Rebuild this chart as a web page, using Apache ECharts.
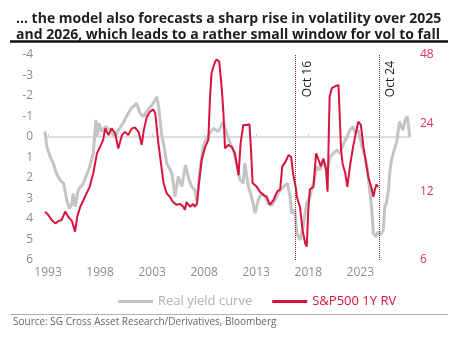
<!DOCTYPE html>
<html>
<head>
<meta charset="utf-8">
<script src="https://cdn.jsdelivr.net/npm/echarts@6/dist/echarts.min.js"></script>
<style>
  html, body { margin: 0; padding: 0; background: #ffffff; }
  #chart { width: 464px; height: 339px; }
</style>
</head>
<body>
<div id="chart"></div>
<script>
// Real yield curve (left axis, inverted), decimal years
const curveYears = [1992.71, 1992.88, 1993.2, 1993.5, 1993.8, 1994.15, 1994.5, 1994.8, 1995.05, 1995.3, 1995.4, 1995.6, 1995.9, 1996.4, 1996.7, 1997.0, 1997.35, 1997.6, 1997.7, 1997.9, 1998.15, 1998.5, 1998.95, 1999.4, 1999.75, 2000.2, 2000.7, 2001.0, 2001.5, 2001.85, 2002.15, 2002.6, 2003.1, 2003.45, 2003.6, 2003.9, 2004.2, 2004.4, 2004.9, 2005.2, 2005.5, 2005.85, 2006.2, 2006.55, 2006.8, 2007.1, 2007.3, 2007.6, 2007.9, 2008.25, 2008.55, 2008.9, 2009.35, 2009.85, 2010.15, 2010.5, 2010.8, 2011.1, 2011.45, 2011.75, 2011.9, 2012.25, 2012.55, 2012.9, 2013.2, 2013.5, 2013.85, 2014.15, 2014.5, 2014.8, 2015.1, 2015.6, 2016.0, 2016.25, 2016.4, 2016.7, 2016.9, 2017.2, 2017.5, 2017.85, 2018.15, 2018.5, 2018.8, 2019.1, 2019.45, 2019.8, 2020.1, 2020.4, 2020.75, 2021.05, 2021.4, 2021.7, 2022.0, 2022.3, 2022.5, 2022.8, 2023.15, 2023.45, 2023.7, 2023.9, 2024.1, 2024.25, 2024.5, 2024.7, 2024.9, 2025.2, 2025.35, 2025.5, 2025.7, 2025.85, 2026.0, 2026.25, 2026.5, 2026.75, 2026.95, 2027.1, 2027.3, 2027.5, 2027.6, 2027.75];
const curveValues = [-0.26, 0.47, 0.96, 1.28, 1.77, 2.1, 2.26, 3.07, 3.48, 3.23, 2.75, 3.4, 2.59, 2.26, 1.85, 1.45, 0.8, -0.83, -0.01, -0.67, -0.26, -0.5, -0.34, 0.0, -0.34, -0.67, -1.16, -1.4, -1.64, -1.16, -0.99, -1.32, -1.64, -1.97, -1.56, -0.18, 0.63, 1.28, 1.77, 2.91, 1.93, 2.42, 1.37, 2.1, 2.42, 2.59, 3.15, 1.61, 0.47, 0.06, -0.2, -0.42, -0.26, -0.75, -0.18, 0.31, 0.63, 1.28, 2.1, 2.26, 1.28, 2.42, 2.91, 3.72, 3.07, 2.75, 2.91, 3.23, 3.32, 3.07, 2.75, 2.42, 2.26, 2.91, 3.72, 3.56, 4.7, 5.02, 4.37, 3.23, 2.91, 2.26, 1.45, 1.61, 1.12, 1.77, 0.96, 0.8, 0.63, 0.8, 0.31, 0.0, -0.34, -0.5, -0.18, -0.34, 0.47, 0.96, 1.61, 2.59, 3.56, 4.7, 4.86, 4.62, 4.78, 4.54, 3.4, 3.23, 2.59, 1.61, 1.12, 0.63, 0.23, -0.75, -0.5, -0.34, -0.83, -1.0, -0.67, 0.0];

// S&P500 1Y realised volatility (right axis, log scale)
const volYears = [1992.71, 1993.0, 1993.35, 1993.7, 1994.0, 1994.3, 1994.65, 1994.95, 1995.3, 1995.6, 1995.8, 1996.1, 1996.4, 1996.7, 1997.0, 1997.35, 1997.7, 1998.0, 1998.3, 1998.5, 1998.8, 1999.1, 1999.45, 1999.75, 2000.1, 2000.4, 2000.7, 2001.05, 2001.35, 2001.7, 2002.0, 2002.2, 2002.5, 2002.8, 2003.1, 2003.3, 2003.6, 2003.85, 2004.1, 2004.4, 2004.7, 2005.0, 2005.35, 2005.7, 2006.0, 2006.15, 2006.3, 2006.65, 2006.95, 2007.1, 2007.3, 2007.5, 2007.75, 2008.1, 2008.4, 2008.55, 2008.7, 2009.05, 2009.2, 2009.35, 2009.45, 2009.7, 2009.85, 2010.0, 2010.3, 2010.65, 2010.95, 2011.3, 2011.5, 2011.75, 2012.1, 2012.35, 2012.5, 2012.65, 2013.05, 2013.35, 2013.7, 2014.0, 2014.3, 2014.65, 2015.0, 2015.3, 2015.5, 2015.8, 2016.1, 2016.35, 2016.55, 2016.8, 2016.9, 2017.2, 2017.45, 2017.7, 2017.85, 2018.0, 2018.15, 2018.5, 2018.75, 2019.0, 2019.2, 2019.45, 2019.7, 2019.85, 2020.05, 2020.25, 2020.55, 2020.9, 2021.05, 2021.15, 2021.3, 2021.55, 2021.75, 2022.0, 2022.3, 2022.5, 2022.8, 2023.05, 2023.3, 2023.55, 2023.75, 2024.1, 2024.25, 2024.4, 2024.55, 2024.7];
const volValues = [9.8, 9.5, 9.0, 8.7, 8.9, 9.0, 9.8, 9.3, 8.9, 8.0, 9.3, 10.3, 11.0, 11.8, 12.6, 14.5, 17.7, 18.9, 20.3, 22.8, 21.3, 22.8, 21.7, 18.6, 21.3, 22.0, 21.3, 22.8, 23.0, 22.0, 19.3, 22.4, 25.7, 27.0, 27.7, 26.6, 19.6, 16.0, 13.1, 11.8, 11.4, 10.8, 10.5, 10.6, 10.3, 9.97, 10.8, 10.3, 10.6, 10.3, 10.6, 13.1, 16.5, 18.9, 20.3, 30.4, 39.9, 44.8, 45.9, 46.4, 44.8, 33.7, 26.6, 18.6, 19.3, 18.9, 17.7, 14.2, 19.6, 23.6, 23.6, 23.8, 18.3, 13.1, 12.6, 12.0, 11.6, 11.4, 10.5, 11.0, 12.0, 12.3, 15.5, 16.2, 17.4, 17.1, 14.3, 12.5, 11.4, 10.3, 8.14, 7.1, 6.87, 9.97, 12.3, 12.6, 17.7, 16.5, 15.5, 16.8, 15.1, 12.0, 31.5, 34.2, 34.9, 35.4, 35.4, 18.3, 15.9, 14.5, 12.6, 15.5, 18.9, 21.0, 24.4, 23.6, 18.9, 16.0, 14.0, 12.3, 11.4, 12.3, 12.9, 12.6];

// Axis labels and event markers
const yearTicks = [1993, 1998, 2003, 2008, 2013, 2018, 2023];
const volTicks = [6, 12, 24, 48];
const events = [{ name: 'Oct 16', year: 2016.79 }, { name: 'Oct 24', year: 2024.79 }];

const GRAY = '#c4c4c4';
const RED = '#d8143c';
const FONT = 'Open Sans';

const chart = echarts.init(document.getElementById('chart'), null, { renderer: 'canvas' });

const pairs = (xs, ys) => xs.map((x, i) => [x, ys[i]]);

chart.setOption({
  animation: false,
  textStyle: { fontFamily: FONT },
  title: [{
    text: '… the model also forecasts a sharp rise in volatility over 2025\nand 2026, which leads to a rather small window for vol to fall',
    left: 11, top: 6,
    textStyle: { fontFamily: FONT, fontWeight: 'bold', fontSize: 14, lineHeight: 16, color: '#1e1e1e' }
  }],
  graphic: [
    { type: 'line', shape: { x1: 10, y1: 41.5, x2: 448, y2: 41.5 }, style: { stroke: '#111', lineWidth: 2.5 } },
    { type: 'line', shape: { x1: 10, y1: 314.5, x2: 448, y2: 314.5 }, style: { stroke: '#b0b0b0', lineWidth: 1 } },
    { type: 'text', left: 13, top: 317, style: { text: 'Source: SG Cross Asset Research/Derivatives, Bloomberg', fill: '#666', fontSize: 10, fontFamily: FONT } }
  ],
  legend: {
    left: 113, top: 290,
    itemWidth: 35, itemHeight: 3, itemGap: 20,
    icon: 'rect',
    textStyle: { fontSize: 13, fontFamily: FONT },
    data: [
      { name: 'Real yield curve', textStyle: { color: '#b0b0b0' } },
      { name: 'S&P500 1Y RV', textStyle: { color: RED } }
    ]
  },
  grid: { left: 45, right: 54, top: 55, bottom: 79 },
  xAxis: [{
    type: 'value', min: 1992.71, max: 2027.77, position: 'bottom',
    axisLine: { show: false, onZero: false }, axisTick: { show: false }, splitLine: { show: false },
    axisLabel: { customValues: yearTicks, formatter: v => String(Math.round(v)), color: '#8c8c8c', fontSize: 12, margin: 7 }
  }, {
    type: 'value', min: 1992.71, max: 2027.77, position: 'top',
    axisLine: { show: true, onZero: true, onZeroAxisIndex: 0, lineStyle: { color: '#d2d2d2', width: 1.5 } },
    axisTick: { show: true, customValues: yearTicks, length: 3, lineStyle: { color: '#c8c8c8' } },
    axisLabel: { show: false }, splitLine: { show: false }
  }],
  yAxis: [{
    type: 'value', inverse: true, min: -4, max: 6, interval: 1, position: 'left',
    axisLine: { show: false }, axisTick: { show: false }, splitLine: { show: false },
    axisLabel: { color: '#8c8c8c', fontSize: 12, margin: 12 }
  }, {
    type: 'log', logBase: 2, min: 6, max: 48, position: 'right',
    axisLine: { show: false }, axisTick: { show: false }, splitLine: { show: false },
    axisLabel: { customValues: volTicks, color: '#e0355c', fontSize: 12, margin: 10 }
  }],
  series: [{
    name: 'Real yield curve', type: 'line', xAxisIndex: 0, yAxisIndex: 0,
    data: pairs(curveYears, curveValues),
    showSymbol: false, symbol: 'none', color: GRAY,
    lineStyle: { color: GRAY, width: 3 }, z: 2
  }, {
    name: 'S&P500 1Y RV', type: 'line', xAxisIndex: 0, yAxisIndex: 1,
    data: pairs(volYears, volValues),
    showSymbol: false, symbol: 'none', color: RED,
    lineStyle: { color: RED, width: 2 }, z: 3,
    markLine: {
      silent: true, symbol: 'none',
      lineStyle: { type: 'dotted', color: '#9e2a2f', width: 1 },
      label: { show: true, position: 'insideEndBottom', formatter: p => p.name, color: '#1a1a1a', fontSize: 12, fontFamily: FONT, distance: 6 },
      data: events.map(e => ({ name: e.name, xAxis: e.year }))
    }
  }]
});
</script>
</body>
</html>
